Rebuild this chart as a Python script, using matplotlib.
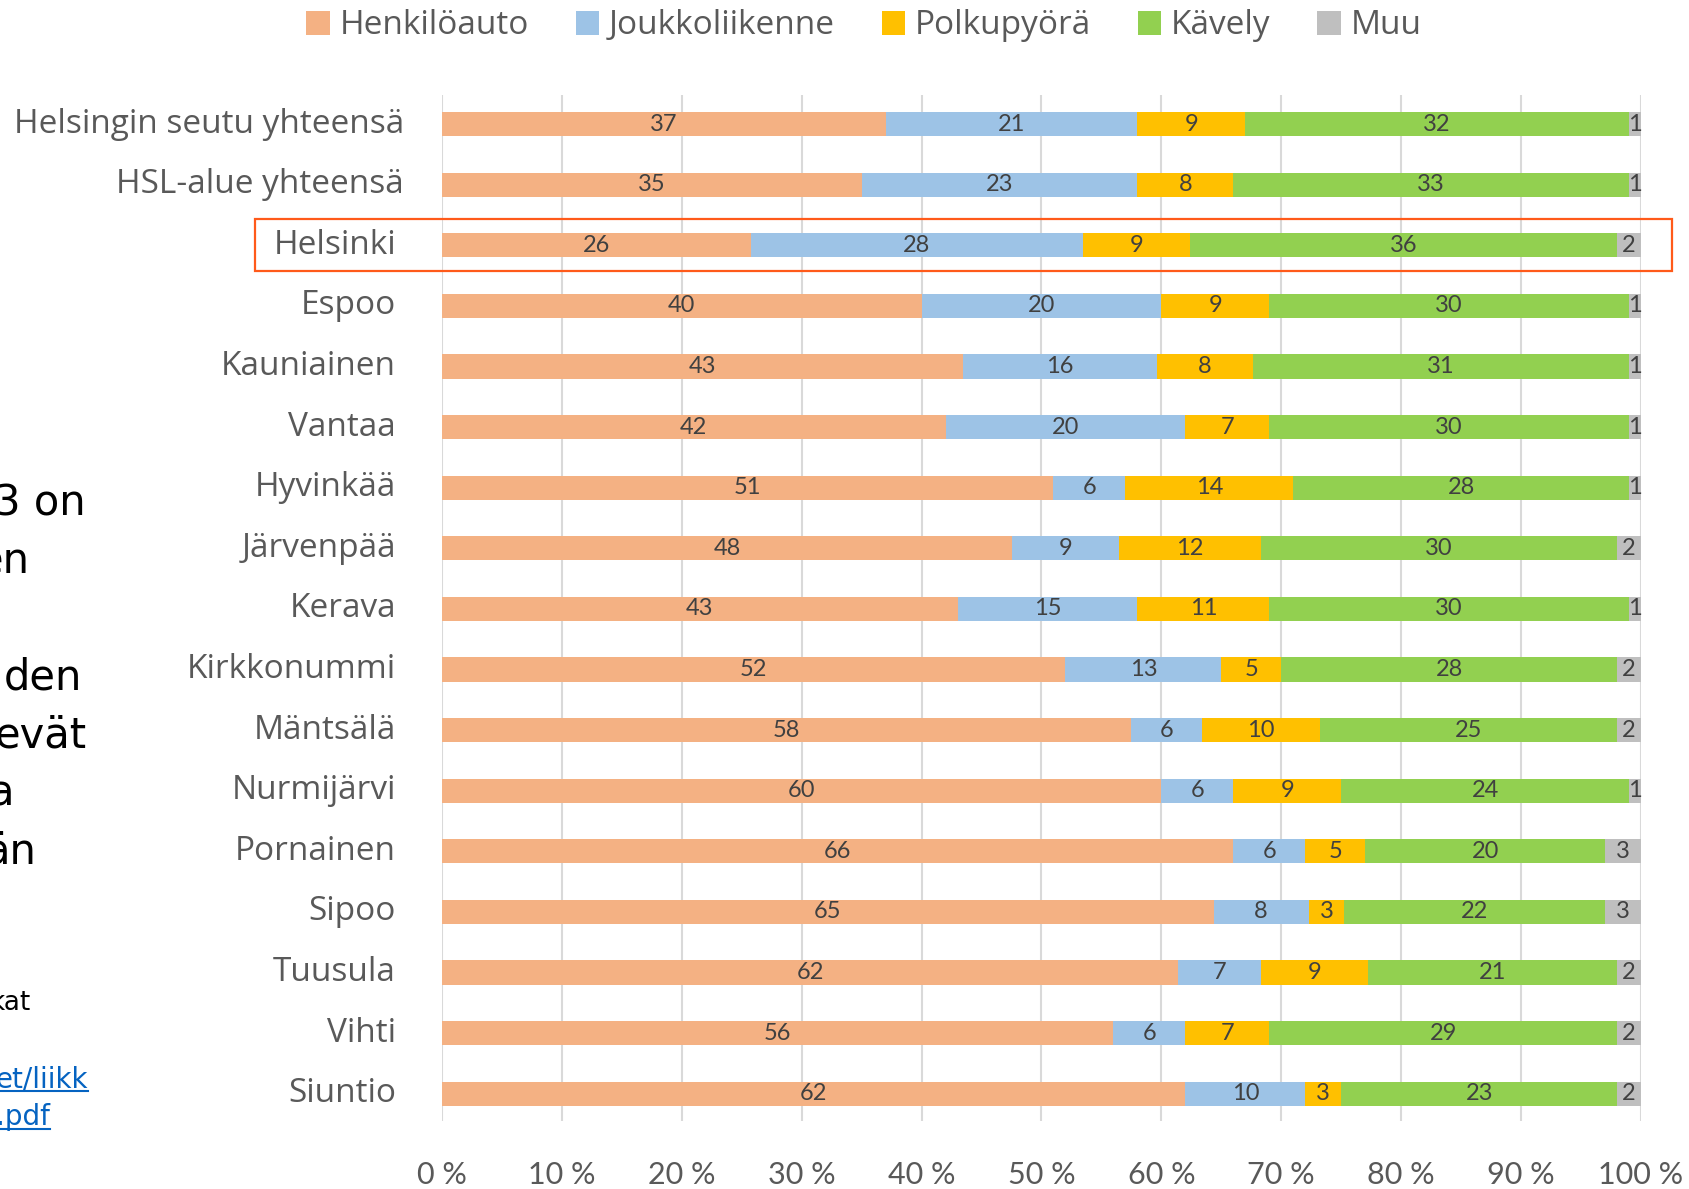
import matplotlib
matplotlib.use("Agg")
import matplotlib.pyplot as plt
import numpy as np
from matplotlib.patches import Rectangle, Patch
from matplotlib.transforms import blended_transform_factory
from matplotlib.lines import Line2D

categories = ["Helsingin seutu yhteensä", "HSL-alue yhteensä", "Helsinki", "Espoo",
              "Kauniainen", "Vantaa", "Hyvinkää", "Järvenpää", "Kerava", "Kirkkonummi",
              "Mäntsälä", "Nurmijärvi", "Pornainen", "Sipoo", "Tuusula", "Vihti", "Siuntio"]
series_names = ["Henkilöauto", "Joukkoliikenne", "Polkupyörä", "Kävely", "Muu"]
henkiloauto    = [37, 35, 26, 40, 43, 42, 51, 48, 43, 52, 58, 60, 66, 65, 62, 56, 62]
joukkoliikenne = [21, 23, 28, 20, 16, 20, 6, 9, 15, 13, 6, 6, 6, 8, 7, 6, 10]
polkupyora     = [9, 8, 9, 9, 8, 7, 14, 12, 11, 5, 10, 9, 5, 3, 9, 7, 3]
kavely         = [32, 33, 36, 30, 31, 30, 28, 30, 30, 28, 25, 24, 20, 22, 21, 29, 23]
muu            = [1, 1, 2, 1, 1, 1, 1, 2, 1, 2, 2, 1, 3, 3, 2, 2, 2]
xtick_values = [0, 10, 20, 30, 40, 50, 60, 70, 80, 90, 100]
xtick_labels = ["0 %", "10 %", "20 %", "30 %", "40 %", "50 %", "60 %", "70 %", "80 %", "90 %", "100 %"]
side_lines = ["3 on", "en", "den", "evät", "a", "än"]
side_small = ["kat"]
side_links = ["et/liikk", ".pdf"]

colors = ["#F4B183", "#9DC3E6", "#FFC000", "#92D050", "#BFBFBF"]
TXT = "#595959"
FONT = "Lato"
LABFONT = "Open Sans"

W, H = 1690, 1189
fig = plt.figure(figsize=(W / 100, H / 100), dpi=100)
ax = fig.add_axes([442 / W, 1 - 1121 / H, (1641 - 442) / W, (1121 - 95) / H])

data = np.array([henkiloauto, joukkoliikenne, polkupyora, kavely, muu], dtype=float)
pct = data / data.sum(axis=0) * 100
y = np.arange(len(categories))
left = np.zeros(len(categories))
for i, name in enumerate(series_names):
    ax.barh(y, pct[i], left=left, height=0.40, color=colors[i], label=name, zorder=2)
    for j in range(len(categories)):
        ax.text(left[j] + pct[i][j] / 2, y[j], f"{int(data[i][j])}", ha="center", va="center",
                fontsize=17, color="#404040", family=FONT, zorder=3)
    left += pct[i]

ax.set_xlim(0, 100)
ax.set_ylim(16.45, -0.48)
ax.set_xticks(xtick_values)
ax.set_xticklabels(xtick_labels, fontsize=22, color=TXT, family=FONT)
ax.tick_params(axis="x", length=0, pad=29)
ax.set_yticks([])
for s in ax.spines.values():
    s.set_visible(False)
ax.grid(axis="x", color="#D9D9D9", linewidth=1.5, zorder=0)
ax.set_axisbelow(True)

tr = blended_transform_factory(fig.transFigure, ax.transData)
for j, cat in enumerate(categories):
    xr = 404 / W if j < 2 else 396 / W
    ax.text(xr, y[j], cat, transform=tr, ha="right", va="center", fontsize=24,
            color=TXT, family=LABFONT)

# highlight box around Helsinki
ax.add_patch(Rectangle((255 / W, 2 - 0.43), (1672 - 255) / W, 0.86, transform=tr,
                       fill=False, edgecolor="#FF5A1A", linewidth=1.6, clip_on=False, zorder=5))

handles = [Patch(facecolor=c, edgecolor="none") for c in colors]
leg = fig.legend(handles, series_names, loc="center", bbox_to_anchor=(864 / W, 1 - 26 / H),
                 ncol=5, frameon=False, prop={"family": LABFONT, "size": 24},
                 handlelength=0.7, handleheight=0.7, handletextpad=0.3, columnspacing=1.4)
for t in leg.get_texts():
    t.set_color(TXT)

# cut-off slide text at the left edge
SIDE = "DejaVu Sans"
right_edges = [86, 30, 82, 87, 14, 36]
baselines = [515, 573, 689, 747, 805, 863]
for s, xr, yb in zip(side_lines, right_edges, baselines):
    fig.text(xr / W, 1 - yb / H, s, ha="right", va="baseline", fontsize=30,
             color="black", family=SIDE)
fig.text(31 / W, 1 - 1010 / H, side_small[0], ha="right", va="baseline", fontsize=19,
         color="black", family=SIDE)
fig.canvas.draw()
renderer = fig.canvas.get_renderer()
for s, xr, yb in zip(side_links, [88, 50], [1087, 1125]):
    t = fig.text(xr / W, 1 - yb / H, s, ha="right", va="baseline", fontsize=20,
                 color="#0563C1", family=SIDE)
    bb = t.get_window_extent(renderer)
    uy = 1 - (yb + 4) / H
    fig.add_artist(Line2D([max(bb.x0, 0) / W, bb.x1 / W], [uy, uy], color="#0563C1", linewidth=1.5))

fig.savefig("out.png", dpi=100, facecolor="white")
